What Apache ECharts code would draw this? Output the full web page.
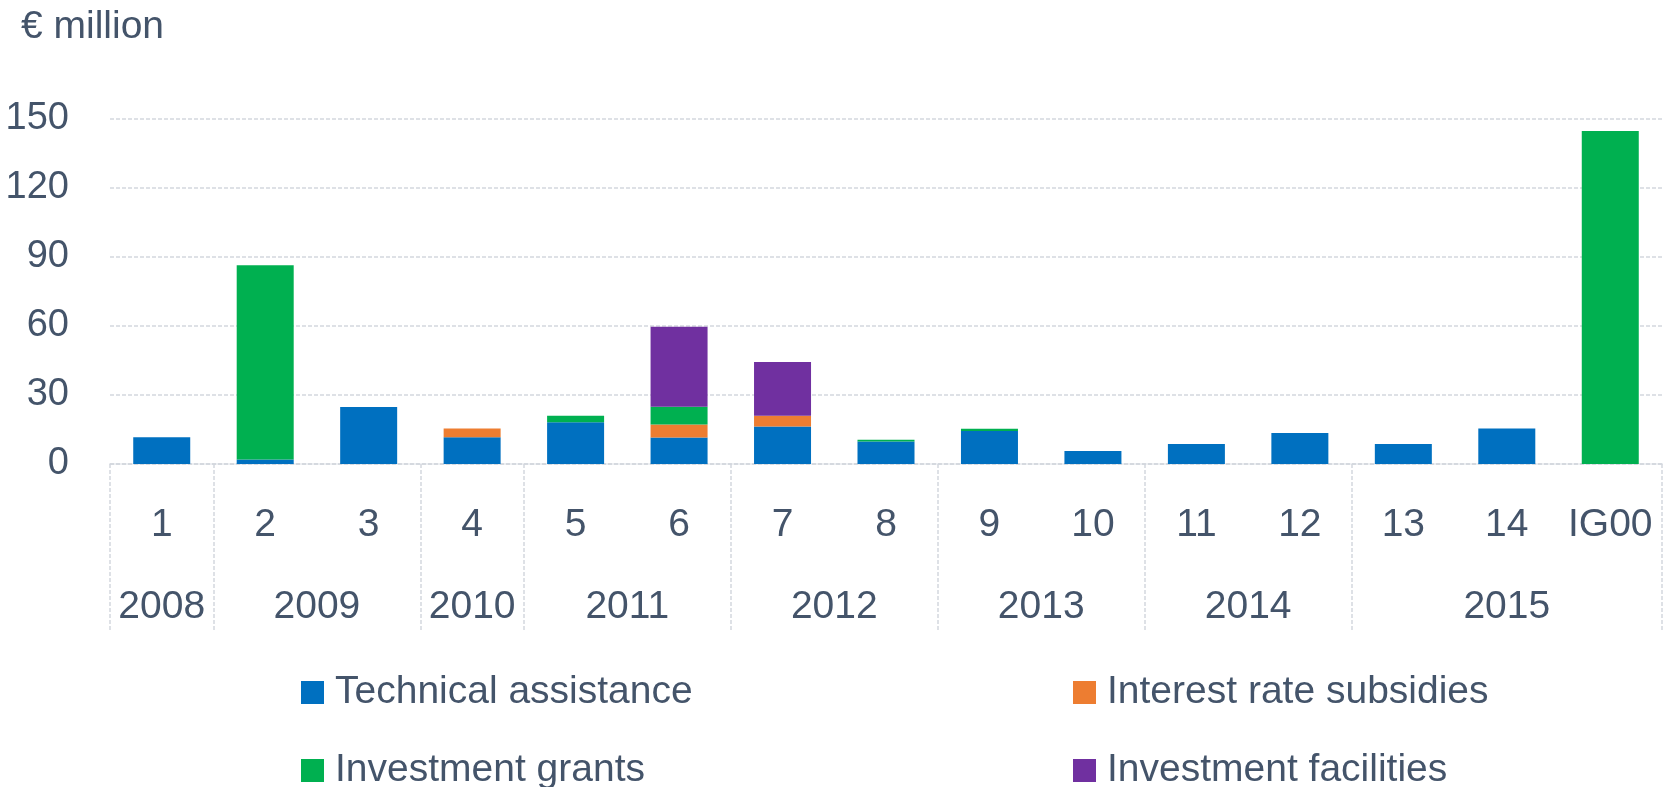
<!DOCTYPE html>
<html>
<head>
<meta charset="utf-8">
<script src="https://cdn.jsdelivr.net/npm/echarts@6/dist/echarts.min.js"></script>
<style>
html,body{margin:0;padding:0;background:#fff;}
#chart{width:1665px;height:787px;}
</style>
</head>
<body>
<div id="chart"></div>
<script>
// ---- data ----
const categories = ['1','2','3','4','5','6','7','8','9','10','11','12','13','14','IG00'];
const years = ['2008','2009','2010','2011','2012','2013','2014','2015'];
const yearSpans = [1, 2, 1, 2, 2, 2, 2, 3];
const technicalAssistance = [11.6, 2.0, 24.8, 11.6, 18.2, 11.5, 16.3, 9.8, 14.4, 5.7, 8.7, 13.5, 8.7, 15.4, 0];
const interestRateSubsidies = [0, 0, 0, 3.8, 0, 5.7, 4.7, 0, 0, 0, 0, 0, 0, 0, 0];
const investmentGrants = [0, 84.4, 0, 0, 2.8, 7.7, 0, 0.7, 0.9, 0, 0, 0, 0, 0, 144.8];
const investmentFacilities = [0, 0, 0, 0, 0, 34.8, 23.3, 0, 0, 0, 0, 0, 0, 0, 0];
const yTicks = {min: 0, max: 150, interval: 30};
const seriesNames = ['Technical assistance', 'Interest rate subsidies', 'Investment grants', 'Investment facilities'];
const seriesColors = ['#0070C0', '#ED7D31', '#00B050', '#7030A0'];

// ---- build year axis (half-category slots) ----
const nHalf = categories.length * 2 + 1;
const yearLabels = new Array(nHalf).fill('');
const boundaryIdx = new Set([0]);
let start = 0;
years.forEach((y, i) => {
  const end = start + yearSpans[i];
  yearLabels[start + end] = y;       // center in half units
  boundaryIdx.add(end * 2);
  start = end;
});

const textColor = '#44546A';
const font = 'Liberation Sans, Arial, sans-serif';
const gridColor = '#d3d7de';

const chart = echarts.init(document.getElementById('chart'), null, {renderer: 'canvas'});
const seriesData = [technicalAssistance, interestRateSubsidies, investmentGrants, investmentFacilities];

const legendPos = [
  {left: 301, top: 673},
  {left: 1073, top: 673},
  {left: 301, top: 751},
  {left: 1073, top: 751}
];

chart.setOption({
  animation: false,
  textStyle: {fontFamily: font},
  title: {
    text: '€ million', left: 16, top: 3,
    textStyle: {fontSize: 39, fontWeight: 'normal', color: textColor, fontFamily: font}
  },
  legend: seriesNames.map((n, i) => ({
    data: [n], left: legendPos[i].left, top: legendPos[i].top, padding: 0,
    icon: 'rect', itemWidth: 23, itemHeight: 23, selectedMode: false,
    textStyle: {fontSize: 39, color: textColor, fontFamily: font, lineHeight: 24, padding: [0, 0, 0, 6]}
  })),
  grid: {left: 110, right: 3, top: 119, bottom: 323, containLabel: false},
  xAxis: [
    {
      type: 'category', data: categories, position: 'bottom',
      axisLine: {show: true, lineStyle: {color: gridColor, type: [4, 2], width: 1.5}},
      axisTick: {show: false},
      axisLabel: {interval: 0, fontSize: 39, color: textColor, fontFamily: font, margin: 61, verticalAlign: 'middle'}
    },
    {
      type: 'category', data: yearLabels, position: 'bottom', boundaryGap: false,
      axisLine: {show: false},
      axisTick: {
        show: true, length: 166,
        interval: function (idx) { return boundaryIdx.has(idx); },
        lineStyle: {color: gridColor, type: [4, 2], width: 1.5}
      },
      axisLabel: {interval: 0, fontSize: 39, color: textColor, fontFamily: font, margin: 143, verticalAlign: 'middle', hideOverlap: false},
      splitLine: {show: false}
    }
  ],
  yAxis: {
    type: 'value', min: yTicks.min, max: yTicks.max, interval: yTicks.interval,
    axisLine: {show: false}, axisTick: {show: false},
    axisLabel: {fontSize: 38, color: textColor, fontFamily: font, margin: 41},
    splitLine: {show: true, lineStyle: {color: gridColor, type: [4, 2], width: 1.5}}
  },
  series: seriesNames.map((n, i) => ({
    name: n, type: 'bar', stack: 'total', xAxisIndex: 0,
    data: seriesData[i], barWidth: 57,
    itemStyle: {color: seriesColors[i]}
  }))
});
</script>
</body>
</html>
